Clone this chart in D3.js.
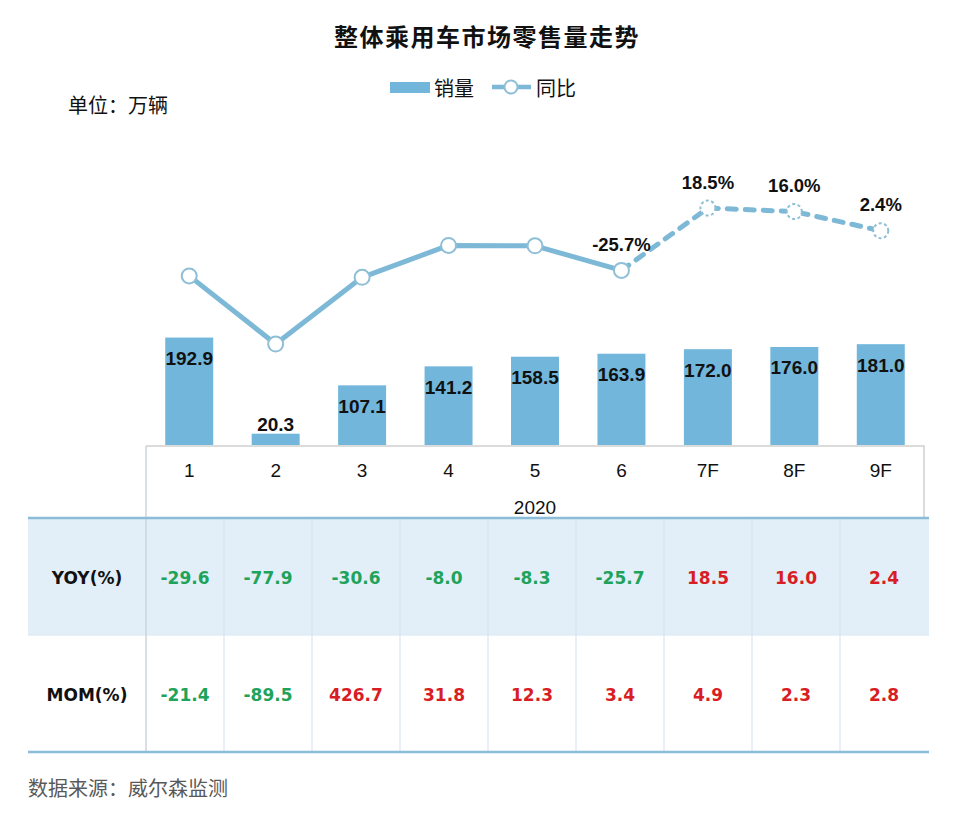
<!DOCTYPE html>
<html>
<head>
<meta charset="utf-8">
<script src="https://d3js.org/d3.v7.min.js"></script>
<style>
  body { margin: 0; background: #fff; }
  svg text { font-family: "Liberation Sans", Arial, sans-serif; }
  .cjk { font-family: "Noto Sans CJK SC", sans-serif !important; }
  .tbl { font-family: "DejaVu Sans", Verdana, sans-serif !important; font-weight: bold; }
</style>
</head>
<body>
<div id="viz"></div>
<script>
// data
const months = ["1", "2", "3", "4", "5", "6", "7F", "8F", "9F"];
const sales = [192.9, 20.3, 107.1, 141.2, 158.5, 163.9, 172.0, 176.0, 181.0];
const yoy = [-29.6, -77.9, -30.6, -8.0, -8.3, -25.7, 18.5, 16.0, 2.4];
const mom = [-21.4, -89.5, 426.7, 31.8, 12.3, 3.4, 4.9, 2.3, 2.8];
const year = "2020";
const firstForecast = 6;   // 7F onwards is forecast (dashed)
const firstLabelled = 5;   // yoy labels shown from month 6
const rowNames = ["YOY(%)", "MOM(%)"];

const W = 962, H = 813;
const barColor = "#72b7db", lineColor = "#7db9d7", markColor = "#8fbfd6";
const green = "#1fa35b", red = "#d81d25";

const svg = d3.select("#viz").append("svg").attr("width", W).attr("height", H);

const x = d3.scaleBand().domain(months).range([146, 924]).paddingInner(0.445).paddingOuter(0.2225);
const yBar = d3.scaleLinear().domain([0, 200]).range([445, 333.6]);
const yLine = d3.scaleLinear().domain([-80, 20]).range([347, 205.9]);
const tx = d3.scaleBand().domain(months).range([136, 928]);
const cx = d => x(d) + x.bandwidth() / 2;

// title, unit, legend
svg.append("text").attr("class", "cjk").attr("x", 487).attr("y", 35)
  .attr("text-anchor", "middle").attr("dominant-baseline", "central")
  .attr("font-size", 24).attr("font-weight", "bold").attr("letter-spacing", 1.5).attr("fill", "#111")
  .text("整体乘用车市场零售量走势");
svg.append("text").attr("class", "cjk").attr("x", 68).attr("y", 104)
  .attr("dominant-baseline", "central").attr("font-size", 20).attr("fill", "#111").text("单位：万辆");

const lg = svg.append("g");
lg.append("rect").attr("x", 390).attr("y", 82).attr("width", 40).attr("height", 11).attr("fill", barColor);
lg.append("text").attr("class", "cjk").attr("x", 434).attr("y", 87).attr("dominant-baseline", "central")
  .attr("font-size", 20).attr("fill", "#111").text("销量");
lg.append("line").attr("x1", 492).attr("x2", 531).attr("y1", 87).attr("y2", 87)
  .attr("stroke", lineColor).attr("stroke-width", 4.5);
lg.append("circle").attr("cx", 511).attr("cy", 87).attr("r", 6.5)
  .attr("fill", "#fff").attr("stroke", markColor).attr("stroke-width", 2);
lg.append("text").attr("class", "cjk").attr("x", 536).attr("y", 87).attr("dominant-baseline", "central")
  .attr("font-size", 20).attr("fill", "#111").text("同比");

// table backgrounds and rules
const tLeft = 28, tRight = 929, rowTop = 518, rowH = 117;
svg.append("rect").attr("x", tLeft).attr("y", rowTop).attr("width", tRight - tLeft).attr("height", rowH)
  .attr("fill", "#e2eff8");
svg.append("line").attr("x1", tLeft).attr("x2", tRight).attr("y1", rowTop + rowH).attr("y2", rowTop + rowH)
  .attr("stroke", "#d6e6f0").attr("stroke-width", 1);
svg.selectAll("line.vcol").data(months.slice(1)).join("line").attr("class", "vcol")
  .attr("x1", d => tx(d)).attr("x2", d => tx(d))
  .attr("y1", rowTop).attr("y2", rowTop + 2 * rowH)
  .attr("stroke", "#d3e0ea").attr("stroke-width", 1);
svg.append("line").attr("x1", 146).attr("x2", 146).attr("y1", 446).attr("y2", rowTop + 2 * rowH)
  .attr("stroke", "#cdd5dc").attr("stroke-width", 1.5);

// category axis box
svg.append("path").attr("d", `M146,446H924V${rowTop}`).attr("fill", "none")
  .attr("stroke", "#d0d0d0").attr("stroke-width", 1.5);
svg.append("g").selectAll("text").data(months).join("text")
  .attr("x", cx).attr("y", 470).attr("text-anchor", "middle").attr("dominant-baseline", "central")
  .attr("font-size", 19).attr("fill", "#111").text(d => d);
svg.append("text").attr("x", (146 + 924) / 2).attr("y", 507).attr("text-anchor", "middle")
  .attr("dominant-baseline", "central").attr("font-size", 19).attr("fill", "#111").text(year);

[rowTop, rowTop + 2 * rowH].forEach(yy =>
  svg.append("line").attr("x1", tLeft).attr("x2", tRight).attr("y1", yy).attr("y2", yy)
    .attr("stroke", "#8bbcd8").attr("stroke-width", 2.5));

// bars
svg.append("g").selectAll("rect").data(sales).join("rect")
  .attr("x", (d, i) => x(months[i])).attr("width", x.bandwidth())
  .attr("y", d => yBar(d)).attr("height", d => yBar(0) - yBar(d)).attr("fill", barColor);
svg.append("g").selectAll("text").data(sales).join("text")
  .attr("x", (d, i) => cx(months[i]))
  .attr("y", d => (yBar(0) - yBar(d) < 30) ? yBar(d) - 9 : yBar(d) + 21)
  .attr("text-anchor", "middle").attr("dominant-baseline", "central")
  .attr("font-size", 19).attr("font-weight", "bold").attr("fill", "#111")
  .text(d => d.toFixed(1));

// yoy line
const pts = yoy.map((v, i) => [cx(months[i]), yLine(v)]);
const line = d3.line();
svg.append("path").attr("d", line(pts.slice(0, firstForecast))).attr("fill", "none")
  .attr("stroke", lineColor).attr("stroke-width", 5).attr("stroke-linejoin", "round");
svg.append("path").attr("d", line(pts.slice(firstForecast - 1))).attr("fill", "none")
  .attr("stroke", lineColor).attr("stroke-width", 5).attr("stroke-dasharray", "9,9")
  .attr("stroke-linecap", "round");
svg.append("g").selectAll("circle").data(pts).join("circle")
  .attr("cx", d => d[0]).attr("cy", d => d[1]).attr("r", 7.5)
  .attr("fill", "#fff").attr("stroke", markColor).attr("stroke-width", 2)
  .attr("stroke-dasharray", (d, i) => i >= firstForecast ? "3,2.5" : null);
svg.append("g").selectAll("text").data(yoy.slice(firstLabelled)).join("text")
  .attr("x", (d, i) => cx(months[i + firstLabelled]))
  .attr("y", d => yLine(d) - 26)
  .attr("text-anchor", "middle").attr("dominant-baseline", "central")
  .attr("font-size", 18.5).attr("font-weight", "bold").attr("fill", "#111")
  .text(d => d.toFixed(1) + "%");

// table rows
const cellX = d => (Math.max(tx(d), 146) + tx(d) + tx.bandwidth()) / 2;
[yoy, mom].forEach((row, r) => {
  const yy = rowTop + rowH * r + rowH / 2 + 1;
  svg.append("text").attr("class", "tbl").attr("x", 87).attr("y", yy)
    .attr("text-anchor", "middle").attr("dominant-baseline", "central")
    .attr("font-size", 17).attr("fill", "#111").text(rowNames[r]);
  svg.append("g").selectAll("text").data(row).join("text").attr("class", "tbl")
    .attr("x", (d, i) => cellX(months[i])).attr("y", yy)
    .attr("text-anchor", "middle").attr("dominant-baseline", "central")
    .attr("font-size", 17).attr("fill", d => d < 0 ? green : red)
    .text(d => d.toFixed(1));
});

// source
svg.append("text").attr("class", "cjk").attr("x", 28).attr("y", 787)
  .attr("dominant-baseline", "central").attr("font-size", 20).attr("fill", "#595959")
  .text("数据来源：威尔森监测");
</script>
</body>
</html>
